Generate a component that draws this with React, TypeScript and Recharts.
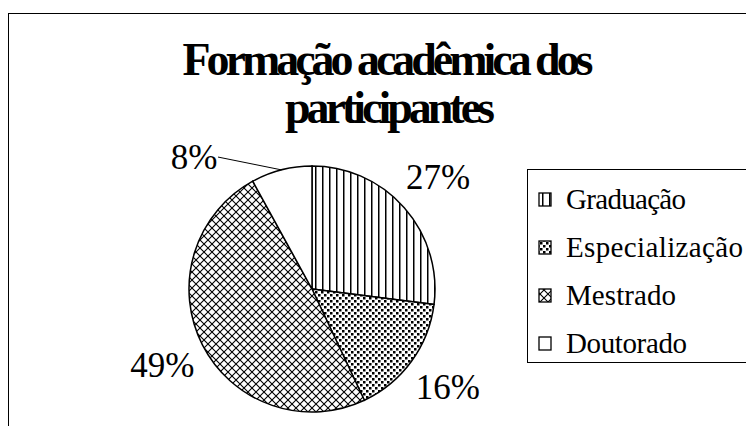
import { PieChart, Pie, Cell, Legend } from "recharts"

const categories = ["Graduação", "Especialização", "Mestrado", "Doutorado"]
const shares = [27, 16, 49, 8]
const titleLines = ["Formação acadêmica dos", "participantes"]

const fills = ["url(#pGrad)", "url(#pEsp)", "url(#pMest)", "#ffffff"]
const legendWidths = [120, 177, 110, 121]

const data = categories.map((name, i) => ({ name, value: shares[i] }))

const FONT = "Liberation Serif"
const RADIAN = Math.PI / 180

const renderLabel = (props: any) => {
    const { cx, cy, midAngle, outerRadius, percent } = props
    const small = percent < 0.1
    const angle = small ? midAngle + 27.4 : midAngle
    const r = small ? outerRadius + 54 : outerRadius + 45
    const x = cx + r * Math.cos(-angle * RADIAN)
    const y = cy + r * Math.sin(-angle * RADIAN)
    const text = `${Math.round(percent * 100)}%`
    return (
        <g>
            {small && (
                <line
                    x1={x + 24}
                    y1={y}
                    x2={cx + outerRadius * Math.cos(-midAngle * RADIAN)}
                    y2={cy + outerRadius * Math.sin(-midAngle * RADIAN)}
                    stroke="#000"
                    strokeWidth={1}
                />
            )}
            <text
                x={x}
                y={y}
                textAnchor="middle"
                dominantBaseline="central"
                fontFamily={FONT}
                fontSize={35}
                fill="#000"
            >
                {text}
            </text>
        </g>
    )
}

const renderLegend = (props: any) => {
    const items = [...(props.payload || [])].sort(
        (a: any, b: any) => categories.indexOf(a.value) - categories.indexOf(b.value)
    )
    return (
        <div style={{ border: "1px solid #000", width: 240, height: 192, background: "#fff" }}>
            <svg width={240} height={192}>
                {items.map((entry: any) => {
                    const i = categories.indexOf(entry.value)
                    const y = 29 + i * 48
                    return (
                        <g key={entry.value}>
                            <rect x={11} y={y - 6} width={12} height={13} fill={fills[i]} stroke="#000" strokeWidth={1.3} />
                            <text
                                x={38}
                                y={y}
                                dominantBaseline="central"
                                fontFamily={FONT}
                                fontSize={29}
                                textLength={legendWidths[i]}
                                lengthAdjust="spacing"
                                fill="#000"
                            >
                                {entry.value}
                            </text>
                        </g>
                    )
                })}
            </svg>
        </div>
    )
}

export default function App() {
    return (
        <div style={{ position: "fixed", left: 0, top: 0, width: 746, height: 426, overflow: "hidden", background: "#fff" }}>
            <div style={{ position: "absolute", left: 8, top: 13, width: 900, height: 600, border: "1px solid #000" }} />
            <svg width={746} height={426} style={{ position: "absolute", left: 0, top: 0 }}>
                <defs>
                    <pattern id="pGrad" width={7} height={7} patternUnits="userSpaceOnUse">
                        <rect width={7} height={7} fill="#fff" />
                        <rect x={0} y={0} width={1.5} height={7} fill="#000" />
                    </pattern>
                    <pattern id="pEsp" width={6} height={6} patternUnits="userSpaceOnUse">
                        <rect width={6} height={6} fill="#fff" />
                        <rect x={0} y={0} width={2.5} height={2.5} fill="#000" />
                        <rect x={3} y={3} width={2.5} height={2.5} fill="#000" />
                    </pattern>
                    <pattern id="pMest" width={8} height={8} patternUnits="userSpaceOnUse">
                        <rect width={8} height={8} fill="#fff" />
                        <path d="M0,0 L8,8 M8,0 L0,8" stroke="#000" strokeWidth={1.1} />
                    </pattern>
                </defs>
                <text x={388} y={75} textAnchor="middle" fontFamily={FONT} fontWeight={700} fontSize={46}
                    textLength={411} lengthAdjust="spacing">
                    {titleLines[0]}
                </text>
                <text x={390} y={123} textAnchor="middle" fontFamily={FONT} fontWeight={700} fontSize={46}
                    textLength={210} lengthAdjust="spacing">
                    {titleLines[1]}
                </text>
            </svg>
            <div style={{ position: "absolute", left: 0, top: 0 }}>
                <PieChart width={746} height={426} margin={{ top: 0, right: 0, bottom: 0, left: 0 }}>
                    <Pie
                        data={data}
                        dataKey="value"
                        nameKey="name"
                        cx={312}
                        cy={289}
                        outerRadius={123}
                        startAngle={90}
                        endAngle={-270}
                        stroke="#000"
                        strokeWidth={1.5}
                        label={renderLabel}
                        labelLine={false}
                        isAnimationActive={false}
                    >
                        {data.map((d, i) => (
                            <Cell key={d.name} fill={fills[i]} />
                        ))}
                    </Pie>
                    <Legend
                        layout="vertical"
                        align="right"
                        verticalAlign="top"
                        content={renderLegend}
                        wrapperStyle={{ position: "absolute", left: 527, top: 169, width: 240, margin: 0, padding: 0 }}
                    />
                </PieChart>
            </div>
        </div>
    )
}
